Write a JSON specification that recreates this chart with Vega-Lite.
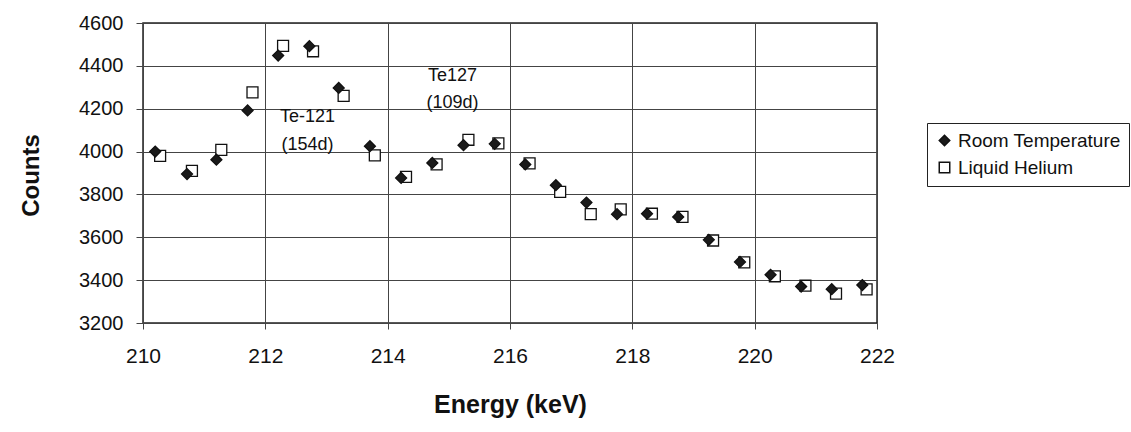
{
  "$schema": "https://vega.github.io/schema/vega-lite/v6.json",
  "width": 734,
  "height": 300,
  "autosize": "none",
  "padding": {"left": 143, "top": 23, "right": 254, "bottom": 109},
  "background": "white",
  "config": {
    "font": "Liberation Sans",
    "view": {"stroke": "#222", "strokeWidth": 1.5},
    "axis": {"gridColor": "#444", "gridWidth": 1, "gridOpacity": 1, "domain": false, "tickColor": "#444", "labelColor": "#111", "titleColor": "#111"}
  },
  "datasets": {
    "points": [
      {"energy": 210.28, "counts": 3980, "series": "Liquid Helium"},
      {"energy": 210.80, "counts": 3910, "series": "Liquid Helium"},
      {"energy": 211.28, "counts": 4008, "series": "Liquid Helium"},
      {"energy": 211.79, "counts": 4276, "series": "Liquid Helium"},
      {"energy": 212.29, "counts": 4493, "series": "Liquid Helium"},
      {"energy": 212.78, "counts": 4468, "series": "Liquid Helium"},
      {"energy": 213.28, "counts": 4260, "series": "Liquid Helium"},
      {"energy": 213.79, "counts": 3982, "series": "Liquid Helium"},
      {"energy": 214.30, "counts": 3882, "series": "Liquid Helium"},
      {"energy": 214.80, "counts": 3940, "series": "Liquid Helium"},
      {"energy": 215.32, "counts": 4055, "series": "Liquid Helium"},
      {"energy": 215.81, "counts": 4038, "series": "Liquid Helium"},
      {"energy": 216.32, "counts": 3945, "series": "Liquid Helium"},
      {"energy": 216.82, "counts": 3812, "series": "Liquid Helium"},
      {"energy": 217.32, "counts": 3708, "series": "Liquid Helium"},
      {"energy": 217.81, "counts": 3730, "series": "Liquid Helium"},
      {"energy": 218.32, "counts": 3710, "series": "Liquid Helium"},
      {"energy": 218.82, "counts": 3695, "series": "Liquid Helium"},
      {"energy": 219.32, "counts": 3585, "series": "Liquid Helium"},
      {"energy": 219.83, "counts": 3483, "series": "Liquid Helium"},
      {"energy": 220.33, "counts": 3418, "series": "Liquid Helium"},
      {"energy": 220.83, "counts": 3374, "series": "Liquid Helium"},
      {"energy": 221.33, "counts": 3337, "series": "Liquid Helium"},
      {"energy": 221.83, "counts": 3357, "series": "Liquid Helium"},
      {"energy": 210.20, "counts": 4000, "series": "Room Temperature"},
      {"energy": 210.72, "counts": 3895, "series": "Room Temperature"},
      {"energy": 211.20, "counts": 3962, "series": "Room Temperature"},
      {"energy": 211.71, "counts": 4192, "series": "Room Temperature"},
      {"energy": 212.21, "counts": 4448, "series": "Room Temperature"},
      {"energy": 212.72, "counts": 4492, "series": "Room Temperature"},
      {"energy": 213.20, "counts": 4297, "series": "Room Temperature"},
      {"energy": 213.71, "counts": 4025, "series": "Room Temperature"},
      {"energy": 214.22, "counts": 3877, "series": "Room Temperature"},
      {"energy": 214.73, "counts": 3947, "series": "Room Temperature"},
      {"energy": 215.24, "counts": 4030, "series": "Room Temperature"},
      {"energy": 215.75, "counts": 4036, "series": "Room Temperature"},
      {"energy": 216.25, "counts": 3940, "series": "Room Temperature"},
      {"energy": 216.75, "counts": 3843, "series": "Room Temperature"},
      {"energy": 217.25, "counts": 3762, "series": "Room Temperature"},
      {"energy": 217.75, "counts": 3708, "series": "Room Temperature"},
      {"energy": 218.24, "counts": 3710, "series": "Room Temperature"},
      {"energy": 218.75, "counts": 3695, "series": "Room Temperature"},
      {"energy": 219.25, "counts": 3588, "series": "Room Temperature"},
      {"energy": 219.76, "counts": 3485, "series": "Room Temperature"},
      {"energy": 220.26, "counts": 3425, "series": "Room Temperature"},
      {"energy": 220.76, "counts": 3370, "series": "Room Temperature"},
      {"energy": 221.26, "counts": 3358, "series": "Room Temperature"},
      {"energy": 221.76, "counts": 3377, "series": "Room Temperature"}
    ],
    "labels": [
      {"energy": 212.69, "counts": 4160, "text": "Te-121"},
      {"energy": 212.69, "counts": 4030, "text": "(154d)"},
      {"energy": 215.06, "counts": 4353, "text": "Te127"},
      {"energy": 215.06, "counts": 4225, "text": "(109d)"}
    ]
  },
  "layer": [
    {
      "data": {"name": "points"},
      "mark": {"type": "point", "filled": false, "size": 120, "stroke": "#111", "strokeWidth": 1.3, "opacity": 1},
      "encoding": {
        "x": {
          "field": "energy", "type": "quantitative",
          "scale": {"domain": [210, 222], "nice": false, "zero": false},
          "axis": {
            "values": [210, 212, 214, 216, 218, 220, 222], "format": "d",
            "title": "Energy (keV)", "titleFontSize": 25, "titleFontWeight": "bold",
            "titleX": 367, "titleY": 89, "titleBaseline": "alphabetic", "titleAlign": "center",
            "labelFontSize": 21, "tickSize": 6, "labelPadding": 16, "labelFlush": false
          }
        },
        "y": {
          "field": "counts", "type": "quantitative",
          "scale": {"domain": [3200, 4600], "nice": false, "zero": false},
          "axis": {
            "values": [3200, 3400, 3600, 3800, 4000, 4200, 4400, 4600], "format": "d",
            "title": "Counts", "titleFontSize": 24, "titleFontWeight": "bold",
            "titleX": -112, "titleY": 152, "titleAngle": -90, "titleAlign": "center", "titleBaseline": "middle",
            "labelFontSize": 20, "tickSize": 7, "labelPadding": 13, "labelFlush": false
          }
        },
        "shape": {
          "field": "series", "type": "nominal",
          "scale": {"domain": ["Room Temperature", "Liquid Helium"], "range": ["diamond", "square"]},
          "legend": {
            "title": null, "orient": "none", "legendX": 784, "legendY": 100,
            "strokeColor": "#222", "padding": 8, "labelFontSize": 19, "labelColor": "#111", "labelLimit": 400,
            "symbolSize": 110, "rowPadding": 7, "labelOffset": 4, "symbolOffset": 0,
            "encode": {"symbols": {"update": {"stroke": {"value": "#111"}, "strokeWidth": {"value": 1.3}}}}
          }
        },
        "fill": {
          "field": "series", "type": "nominal",
          "scale": {"domain": ["Room Temperature", "Liquid Helium"], "range": ["#1a1a1a", "white"]},
          "legend": {
            "title": null, "orient": "none", "legendX": 784, "legendY": 100,
            "strokeColor": "#222", "padding": 8, "labelFontSize": 19, "labelColor": "#111", "labelLimit": 400,
            "symbolSize": 110, "rowPadding": 7, "labelOffset": 4, "symbolOffset": 0,
            "encode": {"symbols": {"update": {"stroke": {"value": "#111"}, "strokeWidth": {"value": 1.3}}}}
          }
        }
      }
    },
    {
      "data": {"name": "labels"},
      "mark": {"type": "text", "fontSize": 18, "color": "#111", "font": "Liberation Sans"},
      "encoding": {
        "x": {"field": "energy", "type": "quantitative"},
        "y": {"field": "counts", "type": "quantitative"},
        "text": {"field": "text"}
      }
    }
  ]
}
